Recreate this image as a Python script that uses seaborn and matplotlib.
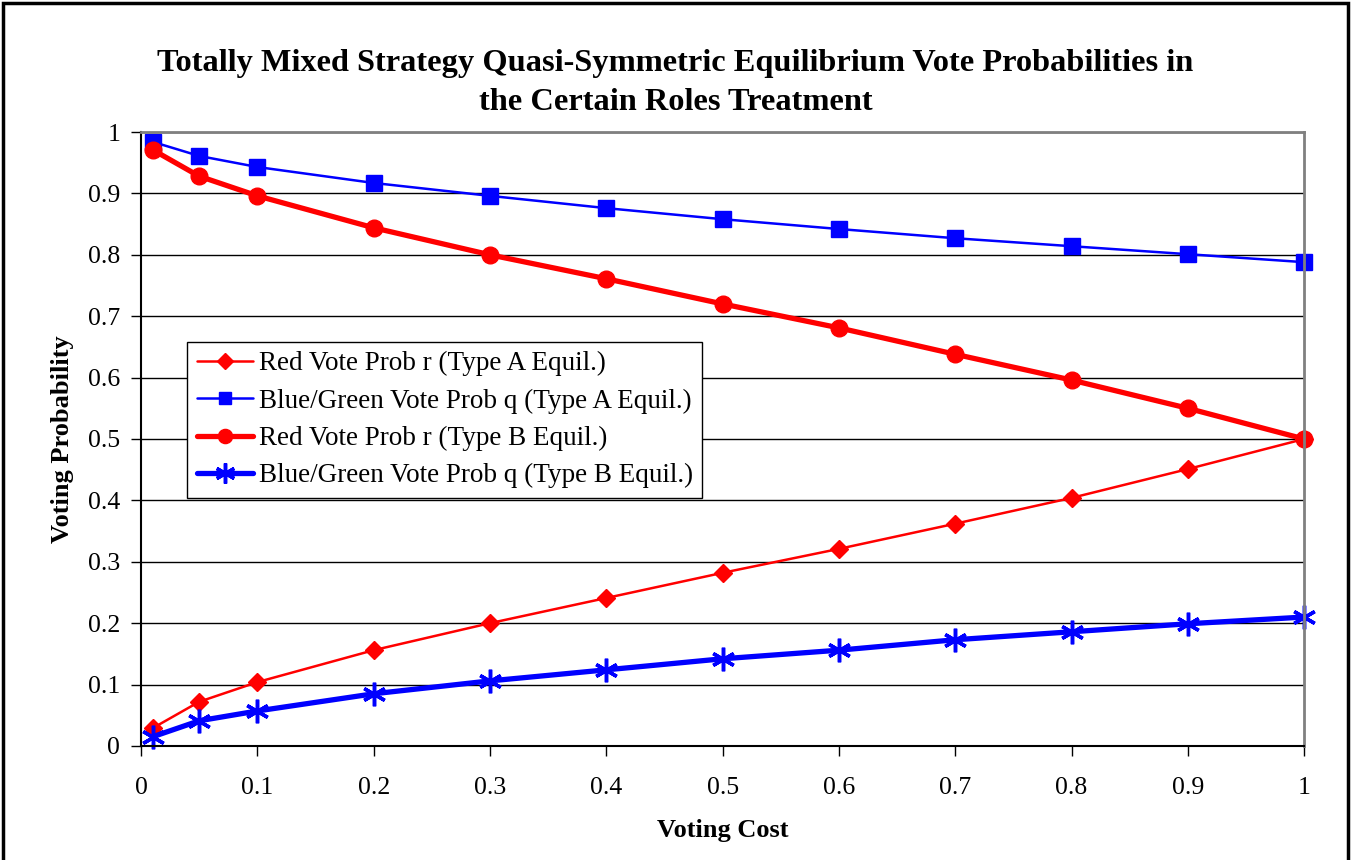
import matplotlib
matplotlib.use("Agg")
import matplotlib.pyplot as plt
import seaborn as sns
import pandas as pd
from matplotlib.lines import Line2D

cost = [0.01, 0.05, 0.1, 0.2, 0.3, 0.4, 0.5, 0.6, 0.7, 0.8, 0.9, 1.0]
red_a = [0.029, 0.072, 0.104, 0.156, 0.200, 0.241, 0.282, 0.321, 0.362, 0.404, 0.451, 0.500]
blue_a = [0.984, 0.961, 0.943, 0.917, 0.896, 0.876, 0.858, 0.842, 0.827, 0.814, 0.801, 0.788]
red_b = [0.971, 0.928, 0.896, 0.844, 0.800, 0.761, 0.720, 0.681, 0.638, 0.596, 0.550, 0.500]
blue_b = [0.015, 0.041, 0.057, 0.085, 0.106, 0.124, 0.142, 0.156, 0.173, 0.186, 0.199, 0.210]
labels = ["Red Vote Prob r (Type A Equil.)",
          "Blue/Green Vote Prob q (Type A Equil.)",
          "Red Vote Prob r (Type B Equil.)",
          "Blue/Green Vote Prob q (Type B Equil.)"]
ticks = [0, 0.1, 0.2, 0.3, 0.4, 0.5, 0.6, 0.7, 0.8, 0.9, 1]
tick_labels = ["0", "0.1", "0.2", "0.3", "0.4", "0.5", "0.6", "0.7", "0.8", "0.9", "1"]

sns.set_style("white")
plt.rcParams["font.family"] = ["Liberation Serif", "DejaVu Serif"]
plt.rcParams["text.color"] = "black"
plt.rcParams["axes.labelcolor"] = "black"

fig = plt.figure(figsize=(13.51, 8.6), dpi=100)
ax = fig.add_axes([0.1044, 0.1326, 0.8609, 0.7139])

styles = [
    dict(color="red", marker="D", markersize=9, linewidth=1.8, mew=1),
    dict(color="blue", marker="s", markersize=11, linewidth=1.8, mew=1),
    dict(color="red", marker="o", markersize=12, linewidth=3.8, mew=1),
    dict(color="blue", marker=(6, 2, 0), markersize=17, linewidth=3.8, mew=2.5),
]
series = [red_a, blue_a, red_b, blue_b]
handles = []
for vals, lab, st in zip(series, labels, styles):
    df = pd.DataFrame({"cost": cost, "prob": vals})
    sns.lineplot(data=df, x="cost", y="prob", ax=ax, color=st["color"],
                 marker=st["marker"], markersize=st["markersize"],
                 linewidth=st["linewidth"], markeredgecolor=st["color"],
                 markeredgewidth=st["mew"], clip_on=False)
    handles.append(Line2D([], [], color=st["color"], marker=st["marker"],
                          markersize=st["markersize"] * 0.85, linewidth=st["linewidth"],
                          markeredgecolor=st["color"], markeredgewidth=st["mew"]))

ax.set_xlim(0, 1)
ax.set_ylim(0, 1)
ax.set_xticks(ticks)
ax.set_xticklabels(tick_labels)
ax.set_yticks(ticks)
ax.set_yticklabels(tick_labels)
ax.tick_params(labelsize=18.5, direction="out", length=7, width=1, colors="black",
               bottom=True, left=True)
ax.tick_params(axis="x", pad=15)
ax.tick_params(axis="y", pad=8)
ax.yaxis.grid(True, color="black", linewidth=1)
ax.xaxis.grid(False)
for side in ["top", "right"]:
    ax.spines[side].set_color("#808080")
    ax.spines[side].set_linewidth(2)
for side in ["left", "bottom"]:
    ax.spines[side].set_color("black")
    ax.spines[side].set_linewidth(1.5)

ax.set_xlabel("Voting Cost", fontsize=19, fontweight="bold", labelpad=15)
ax.set_ylabel("Voting Probability", fontsize=19, fontweight="bold", labelpad=10)
fig.text(0.5, 0.903, "Totally Mixed Strategy Quasi-Symmetric Equilibrium Vote Probabilities in\n"
         "the Certain Roles Treatment", ha="center", va="center",
         fontsize=23.3, fontweight="bold", linespacing=1.45)

leg = ax.legend(handles, labels, loc="lower left", bbox_to_anchor=(0.0396, 0.404),
                fontsize=19.5, frameon=True, fancybox=False, framealpha=1,
                edgecolor="black", handlelength=2.1, borderpad=0.35,
                labelspacing=0.45, handletextpad=0.2, borderaxespad=0)
leg.get_frame().set_linewidth(1)

# outer chart border
fig.add_artist(plt.Rectangle((0.002, -0.01), 0.996, 1.007, transform=fig.transFigure,
                             fill=False, edgecolor="black", linewidth=2.5))

fig.savefig("out.png", dpi=100)
